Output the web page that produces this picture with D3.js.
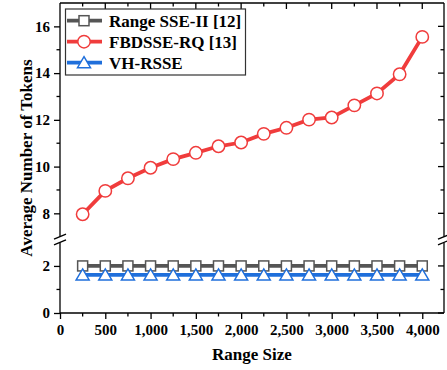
<!DOCTYPE html>
<html>
<head>
<meta charset="utf-8">
<script src="https://cdn.jsdelivr.net/npm/d3@7"></script>
<style>
  body { margin: 0; background: #fff; }
  svg text { font-family: "Liberation Serif", "Times New Roman", serif; font-weight: bold; fill: #000; }
</style>
</head>
<body>
<div id="chart"></div>
<script>
// chart data
const rangeSizes = [250, 500, 750, 1000, 1250, 1500, 1750, 2000, 2250, 2500, 2750, 3000, 3250, 3500, 3750, 4000];
const rangeSSE = [2, 2, 2, 2, 2, 2, 2, 2, 2, 2, 2, 2, 2, 2, 2, 2];
const fbdsse = [7.96, 8.96, 9.5, 9.95, 10.32, 10.59, 10.87, 11.03, 11.4, 11.66, 12.01, 12.1, 12.62, 13.13, 13.95, 15.55];
const vhrsse = [1.62, 1.62, 1.62, 1.62, 1.62, 1.62, 1.62, 1.62, 1.62, 1.62, 1.62, 1.62, 1.62, 1.62, 1.62, 1.62];
const xTicks = [0, 500, 1000, 1500, 2000, 2500, 3000, 3500, 4000];
const upperTicks = [8, 10, 12, 14, 16];
const lowerTicks = [0, 2];

const seriesList = [
    { name: 'Range SSE-II [12]', values: rangeSSE, color: '#555555', shape: 'square' },
    { name: 'FBDSSE-RQ [13]', values: fbdsse, color: '#f03c3c', shape: 'circle' },
    { name: 'VH-RSSE', values: vhrsse, color: '#1f6fdb', shape: 'triangle' }
];

const width = 447, height = 370;
const plotLeft = 60, plotRight = 444, plotTop = 3, plotBottom = 313;
const upperBottom = 236.7, lowerTop = 242.4;

const svg = d3.select('#chart').append('svg')
    .attr('width', width)
    .attr('height', height);

const x = d3.scaleLinear().domain([0, 4240]).range([plotLeft, plotRight]);
const yUp = d3.scaleLinear().domain([7, 17]).range([upperBottom, plotTop]);
const yLow = d3.scaleLinear().domain([0, 3]).range([plotBottom, lowerTop]);
const yPos = v => v >= 5 ? yUp(v) : yLow(v);

const axisColor = '#000';

// bottom axis (outward ticks) with minor ticks
const xMinor = d3.range(250, 4250, 500);
svg.append('g')
    .attr('transform', `translate(0,${plotBottom})`)
    .call(d3.axisBottom(x).tickValues(xTicks).tickSize(6).tickPadding(5).tickFormat(d3.format(',')))
    .call(g => g.select('.domain').remove())
    .call(g => g.selectAll('.tick line').attr('stroke', axisColor).attr('stroke-width', 1.3))
    .call(g => g.selectAll('text').style('font-size', '15px'));
svg.append('g')
    .selectAll('line')
    .data(xMinor)
    .join('line')
    .attr('x1', d => x(d)).attr('x2', d => x(d))
    .attr('y1', plotBottom).attr('y2', plotBottom + 3.5)
    .attr('stroke', axisColor).attr('stroke-width', 1.3);

// top axis (inward ticks)
svg.append('g')
    .selectAll('line')
    .data(d3.range(250, 4250, 250))
    .join('line')
    .attr('x1', d => x(d)).attr('x2', d => x(d))
    .attr('y1', plotTop).attr('y2', d => plotTop + (d % 500 === 0 ? 6 : 3.5))
    .attr('stroke', axisColor).attr('stroke-width', 1.3);

// left axis, upper and lower segments
function leftAxis(scale, ticks, minors) {
    svg.append('g')
        .attr('transform', `translate(${plotLeft},0)`)
        .call(d3.axisLeft(scale).tickValues(ticks).tickSize(6).tickPadding(4).tickFormat(d3.format('d')))
        .call(g => g.select('.domain').remove())
        .call(g => g.selectAll('.tick line').attr('stroke', axisColor).attr('stroke-width', 1.3))
        .call(g => g.selectAll('text').style('font-size', '15px'));
    svg.append('g')
        .selectAll('line')
        .data(minors)
        .join('line')
        .attr('x1', plotLeft - 3.5).attr('x2', plotLeft)
        .attr('y1', d => scale(d)).attr('y2', d => scale(d))
        .attr('stroke', axisColor).attr('stroke-width', 1.3);
    // mirrored inward ticks on the right
    svg.append('g')
        .selectAll('line')
        .data(ticks.concat(minors))
        .join('line')
        .attr('x1', plotRight).attr('x2', d => plotRight - (ticks.includes(d) ? 6 : 3.5))
        .attr('y1', d => scale(d)).attr('y2', d => scale(d))
        .attr('stroke', axisColor).attr('stroke-width', 1.3);
}
leftAxis(yUp, upperTicks, [9, 11, 13, 15]);
leftAxis(yLow, lowerTicks, [1]);

// frame lines
const frame = svg.append('g').attr('stroke', axisColor).attr('stroke-width', 1.3).attr('fill', 'none');
frame.append('line').attr('x1', plotLeft).attr('x2', plotRight).attr('y1', plotBottom).attr('y2', plotBottom);
frame.append('line').attr('x1', plotLeft).attr('x2', plotRight).attr('y1', plotTop).attr('y2', plotTop);
[plotLeft, plotRight].forEach(px => {
    frame.append('line').attr('x1', px).attr('x2', px).attr('y1', plotTop).attr('y2', upperBottom);
    frame.append('line').attr('x1', px).attr('x2', px).attr('y1', lowerTop).attr('y2', plotBottom);
    // break marks
    [upperBottom, lowerTop].forEach(py => {
        frame.append('line')
            .attr('x1', px - 6).attr('x2', px + 6)
            .attr('y1', py + 2.5).attr('y2', py - 2.5);
    });
});

// series lines and markers
const line = d3.line().x((d, i) => x(rangeSizes[i])).y(d => yPos(d));

function drawMarker(g, shape, color, cx, cy) {
    if (shape === 'square') {
        g.append('rect').attr('x', cx - 5).attr('y', cy - 5).attr('width', 10).attr('height', 10)
            .attr('fill', '#fff').attr('stroke', color).attr('stroke-width', 1.5);
    } else if (shape === 'circle') {
        g.append('circle').attr('cx', cx).attr('cy', cy).attr('r', 6.2)
            .attr('fill', '#fff').attr('stroke', color).attr('stroke-width', 1.5);
    } else {
        g.append('path')
            .attr('d', `M${cx},${cy - 6}L${cx + 6.5},${cy + 5}L${cx - 6.5},${cy + 5}Z`)
            .attr('fill', '#fff').attr('stroke', color).attr('stroke-width', 1.5);
    }
}

seriesList.forEach(s => {
    const g = svg.append('g');
    g.append('path')
        .datum(s.values)
        .attr('d', line)
        .attr('fill', 'none')
        .attr('stroke', s.color)
        .attr('stroke-width', 3.8);
    s.values.forEach((v, i) => drawMarker(g, s.shape, s.color, x(rangeSizes[i]), yPos(v)));
});

// legend
const legend = svg.append('g');
legend.append('rect')
    .attr('x', 65.5).attr('y', 9).attr('width', 180).attr('height', 66)
    .attr('fill', '#fff').attr('stroke', '#333').attr('stroke-width', 1.2);
seriesList.forEach((s, i) => {
    const cy = 20.7 + i * 21;
    legend.append('line')
        .attr('x1', 67).attr('x2', 102).attr('y1', cy).attr('y2', cy)
        .attr('stroke', s.color).attr('stroke-width', 3.8);
    drawMarker(legend, s.shape, s.color, 84, cy);
    legend.append('text')
        .attr('x', 109).attr('y', cy + 6)
        .style('font-size', '17px')
        .text(s.name);
});

// axis titles
svg.append('text')
    .attr('text-anchor', 'middle')
    .attr('x', (plotLeft + plotRight) / 2)
    .attr('y', 360)
    .style('font-size', '17px')
    .text('Range Size');

svg.append('text')
    .attr('text-anchor', 'middle')
    .attr('transform', `translate(32,${(plotTop + plotBottom) / 2}) rotate(-90)`)
    .style('font-size', '17px')
    .text('Average Number of Tokens');
</script>
</body>
</html>
